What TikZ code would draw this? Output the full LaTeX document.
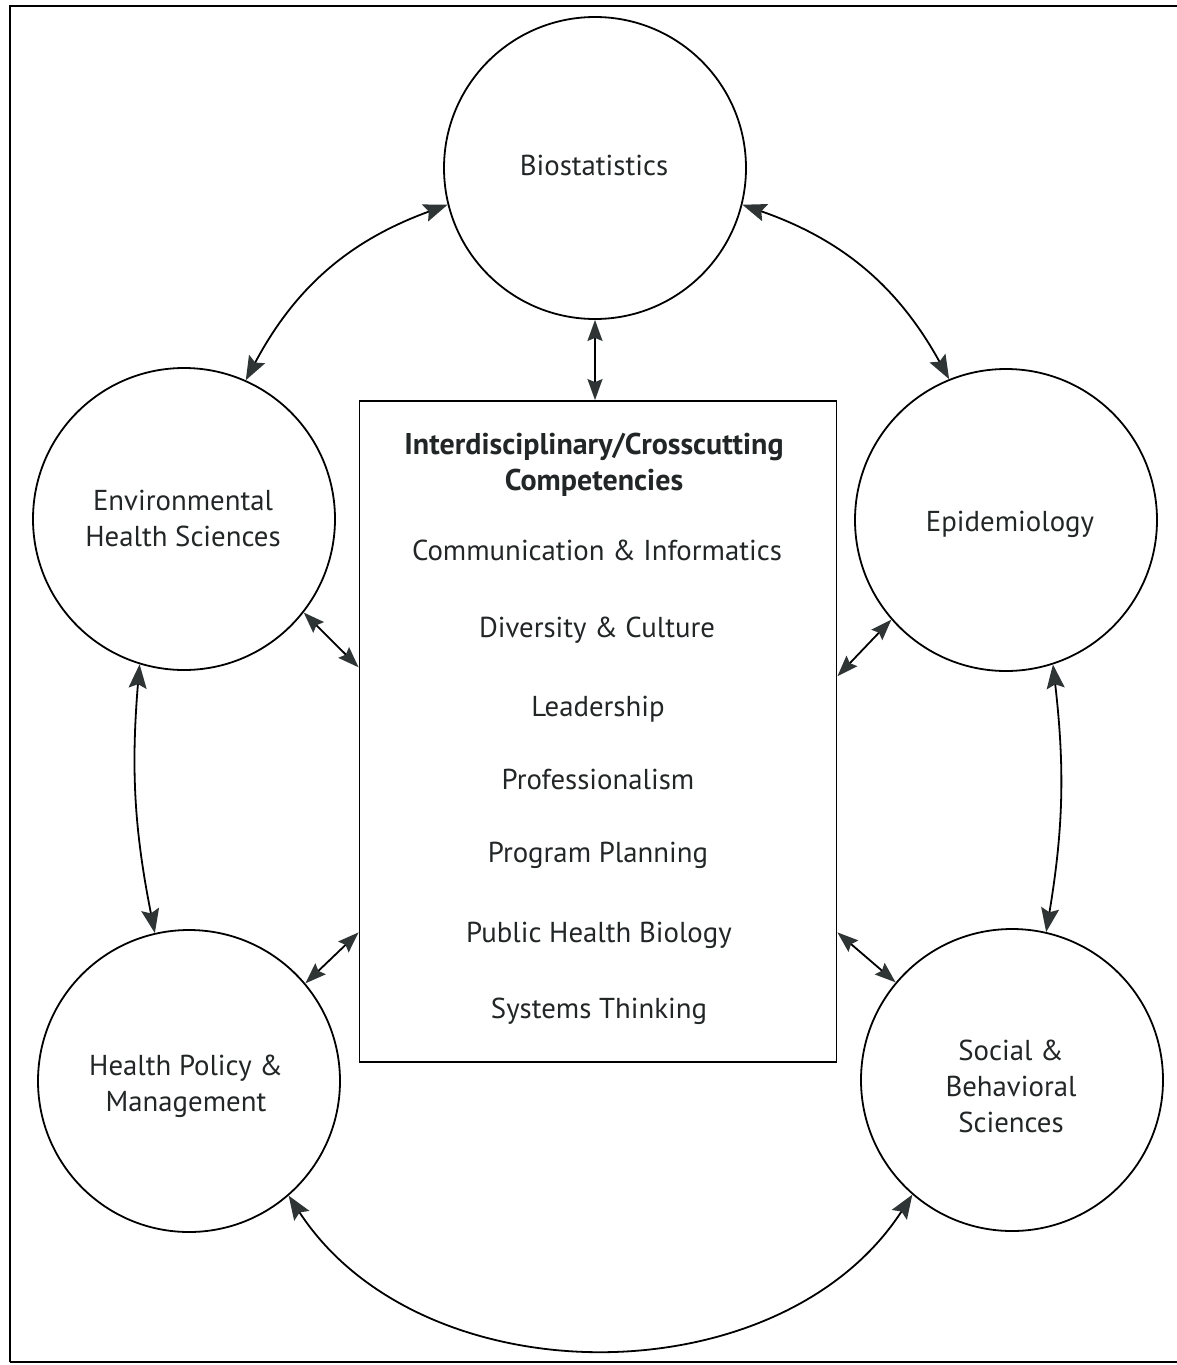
\documentclass[tikz,border=0pt]{standalone}
\usepackage{fontspec}
\setmainfont{PT Sans}
\usetikzlibrary{arrows.meta}
\definecolor{tip}{HTML}{2F3535}
\definecolor{ink}{HTML}{222626}
\begin{document}
\begin{tikzpicture}[x=0.5pt,y=-0.5pt,
  disc/.style={circle,draw,line width=0.9pt,minimum size=151pt,inner sep=0pt},
  lbl/.style={align=center,inner sep=0pt,text=ink,font=\fontsize{14.4}{18}\selectfont},
  compbox/.style={rectangle,draw,line width=0.9pt,minimum width=238.5pt,minimum height=330.5pt,inner sep=0pt},
  item/.style={text=ink,font=\fontsize{14.4}{18}\selectfont,inner sep=0pt},
  ttl/.style={text=ink,font=\bfseries\fontsize{15}{18}\selectfont,inner sep=0pt,align=center},
  big/.style={line width=0.9pt,{Stealth[length=12pt,width=9pt,inset=2pt,color=tip]}-{Stealth[length=12pt,width=9pt,inset=2pt,color=tip]}},
  small/.style={line width=0.9pt,{Stealth[length=10.5pt,width=7.5pt,inset=1.5pt,color=tip]}-{Stealth[length=10.5pt,width=7.5pt,inset=1.5pt,color=tip]}}
]
\useasboundingbox (0,0) rectangle (1177,1365);
\draw[line width=1pt] (10,1362) -- (10,6) -- (1177,6);
\draw[line width=1pt] (10,1362) -- (1177,1362);

\node[disc] (bio) at (595,168) {};
\node[disc] (env) at (184,519) {};
\node[disc] (epi) at (1006,520) {};
\node[disc] (hpm) at (189,1081) {};
\node[disc] (sbs) at (1012,1080) {};

\node[lbl] (biot) at (594,165) {Biostatistics};
\node[lbl] (envt) at (183,518) {Environmental\\Health Sciences};
\node[lbl] (epit) at (1010,524) {Epidemiology};
\node[lbl] (hpmt) at (186,1086) {Health Policy \&\\Management};
\node[lbl] (sbst) at (1011,1086) {Social \&\\Behavioral\\Sciences};

\node[compbox] (box) at (598,731.5) {};
\node[ttl] (title) at (594,465) {Interdisciplinary/Crosscutting\\Competencies};
\node[item,anchor=base] (c1) at (597,560) {Communication \& Informatics};
\node[item,anchor=base] (c2) at (597,637) {Diversity \& Culture};
\node[item,anchor=base] (c3) at (598,716) {Leadership};
\node[item,anchor=base] (c4) at (598,789) {Professionalism};
\node[item,anchor=base] (c5) at (598,862) {Program Planning};
\node[item,anchor=base] (c6) at (599,942) {Public Health Biology};
\node[item,anchor=base] (c7) at (599,1018) {Systems Thinking};

\draw[big] (bio.194) to[bend right=21] (env.66);
\draw[big] (bio.346) to[bend left=21] (epi.112);
\draw[small] (bio.south) -- (bio.south |- box.north);
\draw[small] (env.-38) -- (box.165);
\draw[small] (epi.221) -- (box.13);
\draw[small] (hpm.40) -- (box.220);
\draw[small] (sbs.140) -- (box.320);
\draw[big] (env.253) to[bend right=8] (hpm.103);
\draw[big] (epi.288) to[bend left=8] (sbs.77);
\draw[big] (hpm.311) to[bend right=57] (sbs.229);
\end{tikzpicture}
\end{document}
